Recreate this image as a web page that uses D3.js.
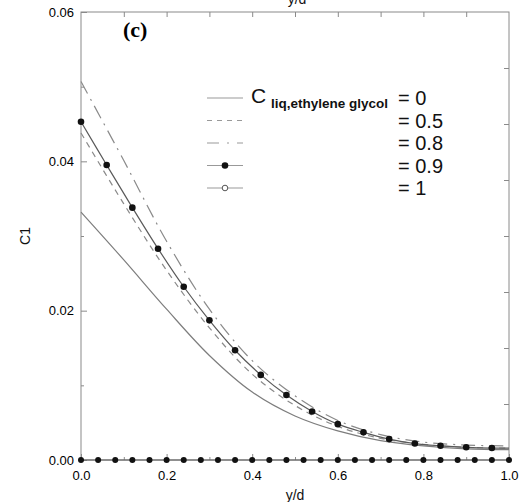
<!DOCTYPE html>
<meta charset="utf-8">
<style type="text/css">
	body { margin: 0; background: #fff; }
	.frame { fill: none; stroke: #8a8a8a; stroke-width: 1; }
	.axis path { display: none; }
	.axis line { stroke: #8a8a8a; }
	.axis text { font-family: "Liberation Sans", Arial, sans-serif; font-size: 13px; fill: #000; }
	.curve { fill: none; stroke: #7a7a7a; stroke-width: 1.2; }
	.lbl { font-family: "Liberation Sans", Arial, sans-serif; fill: #111; }
</style>
<div class="vis"></div>
<script src="https://d3js.org/d3.v7.min.js"></script>
<script>

	// ---- //
	// Data //
	// ---- //

	// C_liq,ethylene glycol = 0 (solid)
	let xC0 = [0, 0.1, 0.2, 0.3, 0.4, 0.5, 0.6, 0.7, 0.8, 0.9, 1.0];
	let yC0 = [0.0332, 0.0268, 0.0202, 0.0140, 0.0091, 0.0059, 0.0039, 0.0026, 0.0019, 0.0015, 0.0014];

	// = 0.5 (dashed)
	let xC05 = [0, 0.1, 0.2, 0.3, 0.4, 0.5, 0.6, 0.7, 0.8, 0.9, 1.0];
	let yC05 = [0.0438, 0.0343, 0.0254, 0.0177, 0.0115, 0.0073, 0.0045, 0.0029, 0.0021, 0.0017, 0.0016];

	// = 0.8 (dash-dot)
	let xC08 = [0, 0.1, 0.2, 0.3, 0.4, 0.5, 0.6, 0.7, 0.8, 0.9, 1.0];
	let yC08 = [0.0507, 0.0401, 0.0293, 0.0202, 0.0133, 0.0086, 0.0053, 0.0034, 0.0024, 0.0020, 0.0019];

	// = 0.9 (solid + filled dots)
	let xC09 = [0, 0.06, 0.12, 0.18, 0.24, 0.30, 0.36, 0.42, 0.48, 0.54, 0.60, 0.66, 0.72, 0.78, 0.84, 0.90, 0.96, 1.0];
	let yC09 = [0.0453, 0.0395, 0.0338, 0.0283, 0.0232, 0.0187, 0.0147, 0.0114, 0.0087, 0.0065, 0.0048, 0.0037, 0.0028, 0.0022, 0.0019, 0.0017, 0.0016, 0.0016];

	// = 1 (circles, all zero)
	let xC1 = [0, 0.04, 0.08, 0.12, 0.16, 0.20, 0.24, 0.28, 0.32, 0.36, 0.40, 0.44, 0.48, 0.52, 0.56, 0.60, 0.64, 0.68, 0.72, 0.76, 0.80, 0.84, 0.88, 0.92, 0.96, 1.0];
	let yC1 = xC1.map(() => 0);

	// Ticks
	let xMajorTicks = [0, 0.2, 0.4, 0.6, 0.8, 1.0];
	let xMinorTicks = [0.1, 0.3, 0.5, 0.7, 0.9];
	let yMajorTicks = [0, 0.02, 0.04, 0.06];
	let yMinorTicks = [0.01, 0.03, 0.05];
	let rightTicks = [0.0075, 0.015, 0.0225, 0.03, 0.0375, 0.045, 0.0525];
	let topTicks = [0.1, 0.2, 0.3, 0.4, 0.5, 0.6, 0.7, 0.8, 0.9];

	let legendValues = ["= 0", "= 0.5", "= 0.8", "= 0.9", "= 1"];

	// ----- //
	// Setup //
	// ----- //

	let W = 527, H = 502;
	let margin = {top: 12, right: 18, bottom: 42, left: 81};
	let width = W - margin.left - margin.right,
		height = H - margin.top - margin.bottom;

	let x = d3.scaleLinear().domain([0, 1]).range([0, width]);
	let y = d3.scaleLinear().domain([0, 0.06]).range([height, 0]);

	let svg = d3.select(".vis").append("svg")
		.attr("width", W)
		.attr("height", H)
		.append("g")
		.attr("transform", "translate(" + margin.left + "," + margin.top + ")");

	// Frame
	svg.append("rect")
		.attr("class", "frame")
		.attr("x", 0).attr("y", 0)
		.attr("width", width).attr("height", height);

	// AXES
	svg.append("g").attr("class", "axis")
		.attr("transform", "translate(0," + height + ")")
		.call(d3.axisBottom(x).tickValues(xMajorTicks).tickSize(-6).tickPadding(11).tickFormat(d3.format(".1f")));
	svg.append("g").attr("class", "axis")
		.attr("transform", "translate(0," + height + ")")
		.call(d3.axisBottom(x).tickValues(xMinorTicks).tickSize(-3).tickFormat(""));
	svg.append("g").attr("class", "axis")
		.call(d3.axisLeft(y).tickValues(yMajorTicks).tickSize(-6).tickPadding(7).tickFormat(d3.format(".2f")));
	svg.append("g").attr("class", "axis")
		.call(d3.axisLeft(y).tickValues(yMinorTicks).tickSize(-3).tickFormat(""));
	svg.append("g").attr("class", "axis")
		.attr("transform", "translate(" + width + ",0)")
		.call(d3.axisRight(y).tickValues(rightTicks).tickSize(-5).tickFormat(""));
	svg.append("g").attr("class", "axis")
		.call(d3.axisTop(x).tickValues(topTicks).tickSize(-5).tickFormat(""));

	// LABELS
	svg.append("text").attr("class", "lbl")
		.attr("x", width / 2).attr("y", height + 40)
		.style("text-anchor", "middle").style("font-size", "14px")
		.text("y/d");
	// top title, cut by the page edge as in the scan
	svg.append("text").attr("class", "lbl")
		.attr("x", width / 2 + 2).attr("y", -8)
		.style("text-anchor", "middle").style("font-size", "14px")
		.text("y/d");
	svg.append("text").attr("class", "lbl")
		.attr("transform", "rotate(-90)")
		.attr("x", -height / 2).attr("y", -51)
		.style("text-anchor", "middle").style("font-size", "14px")
		.text("C1");
	svg.append("text")
		.attr("x", 42).attr("y", 25)
		.style("font-family", "'Liberation Serif', 'Times New Roman', serif")
		.style("font-weight", "bold").style("font-size", "22px")
		.text("(c)");

	// LINES
	let line = d3.line()
		.x(d => x(d[0]))
		.y(d => y(d[1]))
		.curve(d3.curveCatmullRom.alpha(0.5));

	let series = [
		{xs: xC0, ys: yC0, dash: null, stroke: "#7d7d7d"},
		{xs: xC05, ys: yC05, dash: "6,5", stroke: "#8a8a8a"},
		{xs: xC08, ys: yC08, dash: "14,6,2,6", stroke: "#8a8a8a"},
		{xs: xC09, ys: yC09, dash: null, stroke: "#5a5a5a"},
		{xs: xC1, ys: yC1, dash: null, stroke: "#5a5a5a"}
	];

	series.forEach(s => {
		svg.append("path")
			.datum(d3.zip(s.xs, s.ys))
			.attr("class", "curve")
			.attr("d", line)
			.style("stroke", s.stroke)
			.style("stroke-dasharray", s.dash);
	});

	// MARKERS
	svg.selectAll(".dot09")
		.data(d3.zip(xC09, yC09).filter(d => d[0] < 0.99))
		.enter().append("circle")
		.attr("class", "dot09")
		.attr("cx", d => x(d[0]))
		.attr("cy", d => y(d[1]))
		.attr("r", 3.3)
		.style("fill", "#111");

	svg.selectAll(".dot1")
		.data(d3.zip(xC1, yC1))
		.enter().append("circle")
		.attr("class", "dot1")
		.attr("cx", d => x(d[0]))
		.attr("cy", d => y(d[1]))
		.attr("r", 3)
		.style("fill", "#111");

	// LEGEND
	let legend = svg.append("g").attr("transform", "translate(126,86)");
	let rowH = 22.5;
	legendValues.forEach((v, i) => {
		let s = series[i];
		let g = legend.append("g").attr("transform", "translate(0," + (i * rowH) + ")");
		g.append("line")
			.attr("x1", 0).attr("x2", 36)
			.attr("y1", 0).attr("y2", 0)
			.style("stroke", "#999")
			.style("stroke-width", 1.2)
			.style("stroke-dasharray", i == 1 ? "5,5" : (i == 2 ? "12,8,2,8" : null));
		if (i == 3) {
			g.append("circle").attr("cx", 18).attr("cy", 0).attr("r", 3.3).style("fill", "#111");
		}
		if (i == 4) {
			g.append("circle").attr("cx", 18).attr("cy", 0).attr("r", 2.8)
				.style("fill", "#fff").style("stroke", "#555").style("stroke-width", 1);
		}
		g.append("text").attr("class", "lbl")
			.attr("x", 191).attr("y", 7)
			.style("font-size", "20px")
			.text(v);
	});
	legend.append("text").attr("class", "lbl")
		.attr("x", 44).attr("y", 5)
		.style("font-size", "21px")
		.text("C");
	legend.append("text").attr("class", "lbl")
		.attr("x", 64).attr("y", 10)
		.style("font-size", "13.5px").style("font-weight", "bold")
		.text("liq,ethylene glycol");
</script>
